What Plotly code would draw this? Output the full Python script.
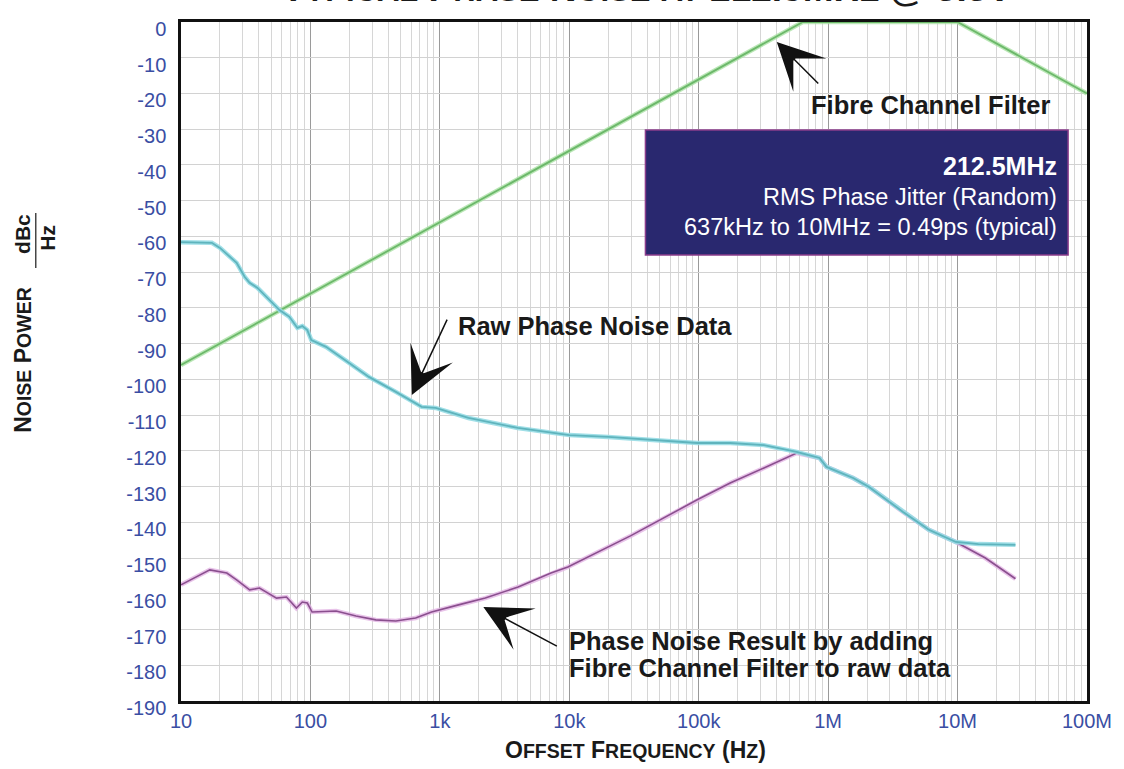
import numpy as np
import plotly.graph_objects as go

# ---------------- data ----------------
filter_freq = [10, 637e3, 10e6, 100e6]
filter_dbc = [-96, 0, 0, -20]

raw_freq = [10, 17.3, 20, 26.9, 31, 33.9, 39, 48.3, 57.7, 68.8, 79.3, 86.6, 94.6,
            101.6, 132, 199, 283, 457, 724, 928, 1663, 4000, 10000, 20000, 97300,
            175000, 319000, 571000, 858000, 971000, 1.56e6, 2.07e6, 3.79e6, 6.0e6,
            9.7e6, 14.5e6, 28e6]
raw_dbc = [-61.6, -61.8, -63.2, -67.4, -71.3, -73.0, -74.4, -77.8, -80.6, -82.5,
           -85.6, -85.1, -86.2, -89.0, -90.9, -95.4, -99.3, -103.5, -107.7, -108.0,
           -110.8, -113.6, -115.6, -116.1, -117.8, -117.8, -118.4, -120.3, -122.0,
           -124.5, -127.6, -130.1, -137.1, -142.1, -145.5, -146.1, -146.3]

res_freq = [10, 16.7, 22.6, 26.9, 33.9, 40.4, 54.7, 65.3, 77.9, 86.5, 94.6, 103,
            158, 225, 320, 457, 650, 863, 1393, 2245, 4027, 7217, 9750, 29700,
            97300, 175000, 319000, 571000, 858000, 971000, 1.56e6, 2.07e6, 3.79e6,
            6.0e6, 9.7e6, 16.4e6, 28e6]
res_dbc = [-157.5, -153.3, -154.2, -156.1, -158.9, -158.4, -161.2, -160.9, -164.0,
           -162.3, -162.6, -165.1, -164.8, -166.2, -167.3, -167.6, -166.8, -165.1,
           -163.1, -161.2, -158.1, -154.2, -152.5, -143.8, -133.7, -129.0, -124.8,
           -120.6, -122.0, -124.5, -127.6, -130.1, -137.1, -142.1, -145.5, -150.0,
           -155.8]

x_tick_vals = [10, 100, 1e3, 1e4, 1e5, 1e6, 1e7, 1e8]
x_tick_text = ["10", "100", "1k", "10k", "100k", "1M", "10M", "100M"]
y_tick_vals = list(range(-190, 1, 10))
y_tick_text = [str(v) for v in y_tick_vals]

# annotation arrow tips (freq, dBc) and tail offsets (px)
arrow_filter = (401e3, -5.6, 43, 43)
arrow_raw = (607, -104.4, 36, -77)
arrow_res = (2168, -163.7, 75, 40)

FONT = "Liberation Sans, Arial, Helvetica, sans-serif"
BLUE = "#3a4ea3"

# plot area in pixels
W, H = 1124, 769
L, R, T, B = 181, 1092, 22, 701


def px(xp, yp):
    return (xp - L) / (R - L), 1 - (yp - T) / (B - T)


fig = go.Figure()
fig.add_trace(go.Scatter(x=filter_freq, y=filter_dbc, mode="lines",
                         line=dict(color="rgba(170,225,165,0.8)", width=4.5), hoverinfo="skip"))
fig.add_trace(go.Scatter(x=filter_freq, y=filter_dbc, mode="lines",
                         line=dict(color="#6cb86a", width=1.8), hoverinfo="skip"))
fig.add_trace(go.Scatter(x=res_freq, y=res_dbc, mode="lines",
                         line=dict(color="rgba(226,180,228,0.8)", width=4.5), hoverinfo="skip"))
fig.add_trace(go.Scatter(x=res_freq, y=res_dbc, mode="lines",
                         line=dict(color="#8a4f8e", width=1.6), hoverinfo="skip"))
fig.add_trace(go.Scatter(x=raw_freq, y=raw_dbc, mode="lines",
                         line=dict(color="rgba(150,220,228,0.9)", width=4.5), hoverinfo="skip"))
fig.add_trace(go.Scatter(x=raw_freq, y=raw_dbc, mode="lines",
                         line=dict(color="#5fb4bd", width=1.8), hoverinfo="skip"))

annotations = []

# title (mostly cut off at the top, as in the reference)
sc = "<span style='font-size:31px'>%s</span>"
title = ("T" + sc % "YPICAL" + " P" + sc % "HASE" + " N" + sc % "OISE" + " " + sc % "AT"
         + " 212.5MH" + sc % "Z" + " @ 3.3V")
tx, _ = px(650, 0)
annotations.append(dict(text="<b>" + title + "</b>", xref="paper", yref="paper",
                        x=tx, y=1, xanchor="center", yanchor="bottom", yshift=11,
                        showarrow=False, font=dict(family=FONT, size=37, color="#1a1a1a")))

# axis titles
sc2 = "<span style='font-size:19.5px'>%s</span>"
xt = "O" + sc2 % "FFSET" + " F" + sc2 % "REQUENCY" + " (H" + sc2 % "Z" + ")"
ax_, ay_ = px(638, 750)
annotations.append(dict(text="<b>" + xt + "</b>", xref="paper", yref="paper", x=ax_, y=ay_,
                        xanchor="center", yanchor="middle", showarrow=False,
                        font=dict(family=FONT, size=23, color="#1a1a1a")))
yt = "N" + sc2 % "OISE" + " P" + sc2 % "OWER"
ax_, ay_ = px(22, 360)
annotations.append(dict(text="<b>" + yt + "</b>", xref="paper", yref="paper", x=ax_, y=ay_,
                        xanchor="center", yanchor="middle", textangle=-90, showarrow=False,
                        font=dict(family=FONT, size=23, color="#1a1a1a")))
ax_, ay_ = px(21, 234)
annotations.append(dict(text="<b>dBc</b>", xref="paper", yref="paper", x=ax_, y=ay_,
                        xanchor="center", yanchor="middle", textangle=-90, showarrow=False,
                        font=dict(family=FONT, size=21, color="#1a1a1a")))
ax_, ay_ = px(46, 238)
annotations.append(dict(text="<b>Hz</b>", xref="paper", yref="paper", x=ax_, y=ay_,
                        xanchor="center", yanchor="middle", textangle=-90, showarrow=False,
                        font=dict(family=FONT, size=21, color="#1a1a1a")))

# callout texts
bold_font = dict(family=FONT, size=25.5, color="#1a1a1a")
for txt, (xp, yp) in [("Fibre Channel Filter", (812, 105)),
                      ("Raw Phase Noise Data", (458, 326)),
                      ("Phase Noise Result by adding", (569, 641)),
                      ("Fibre Channel Filter to raw data", (569, 668))]:
    xx, yy = px(xp, yp)
    annotations.append(dict(text="<b>" + txt + "</b>", xref="paper", yref="paper", x=xx, y=yy,
                            xanchor="left", yanchor="middle", align="left", showarrow=False,
                            font=bold_font))

# arrows
for f, d, axo, ayo in [arrow_filter, arrow_raw, arrow_res]:
    annotations.append(dict(text="", x=np.log10(f), y=d, xref="x", yref="y",
                            showarrow=True, ax=axo, ay=ayo, arrowhead=3, arrowsize=5.2,
                            arrowwidth=1.5, arrowcolor="#111111", standoff=0))

# info box
bx0, by0 = px(648, 255)
bx1, by1 = px(1073, 130)
shapes = [dict(type="rect", xref="paper", yref="paper", x0=bx0, x1=bx1, y0=by0, y1=by1,
               fillcolor="#29286f", line=dict(color="#8a3d8c", width=1.5), layer="above")]
for txt, yp, size, bold in [("212.5MHz", 166, 25, True),
                            ("RMS Phase Jitter (Random)", 197, 23.5, False),
                            ("637kHz to 10MHz = 0.49ps (typical)", 227, 23.5, False)]:
    xx, yy = px(1064, yp)
    annotations.append(dict(text=("<b>%s</b>" % txt) if bold else txt, xref="paper", yref="paper",
                            x=xx, y=yy, xanchor="right", yanchor="middle", showarrow=False,
                            font=dict(family=FONT, size=size, color="white")))

# fraction bar
lx, ly0 = px(35, 213)
_, ly1 = px(35, 268)
shapes.append(dict(type="line", xref="paper", yref="paper", x0=lx, x1=lx, y0=ly0, y1=ly1,
                   line=dict(color="#1a1a1a", width=1.2)))

fig.update_layout(
    width=W, height=H,
    margin=dict(l=L, r=W - R, t=T, b=H - B, pad=0),
    paper_bgcolor="white", plot_bgcolor="white",
    showlegend=False,
    annotations=annotations, shapes=shapes,
    font=dict(family=FONT),
)
fig.update_xaxes(type="log", range=[1, 8], tickvals=x_tick_vals, ticktext=x_tick_text,
                 showgrid=True, gridcolor="#9a9a9a", gridwidth=1.3,
                 minor=dict(dtick="D1", showgrid=True, gridcolor="#d6d6d6", gridwidth=1),
                 showline=True, linecolor="#111111", linewidth=2.5, mirror=True,
                 ticks="", tickfont=dict(family=FONT, size=20, color=BLUE),
                 ticklabelstandoff=0, zeroline=False)
fig.update_yaxes(range=[-190, 0], tickvals=y_tick_vals, ticktext=y_tick_text,
                 showgrid=True, gridcolor="#d2d2d2", gridwidth=1,
                 showline=True, linecolor="#111111", linewidth=2.5, mirror=True,
                 ticks="", tickfont=dict(family=FONT, size=20, color=BLUE),
                 ticklabelstandoff=8, ticklabelshift=7, zeroline=False)

fig.write_html("out.html", config={"displayModeBar": False},
               post_script="document.body.style.margin='0';")
